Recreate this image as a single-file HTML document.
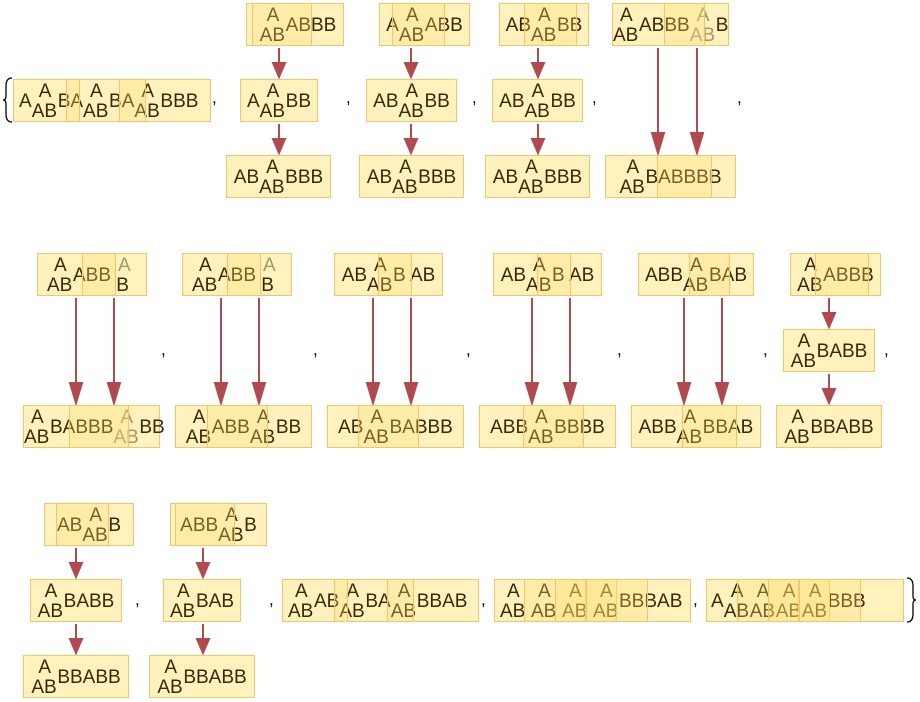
<!DOCTYPE html>
<html><head><meta charset="utf-8"><style>
body{margin:0;width:920px;height:702px;background:#fff;position:relative;overflow:hidden;font-family:"Liberation Sans",sans-serif;}
.b{position:absolute;height:43px;background:rgba(255,238,165,0.75);border:1.5px solid #f5c468;box-sizing:border-box;line-height:44px;text-align:center;white-space:nowrap;font-size:19px;color:#3d2606;}
.o{position:absolute;height:43px;background:rgba(255,226,120,0.3);border:1.5px solid #f5c468;box-sizing:border-box;}
.k{display:inline-block;position:relative;width:26px;height:40px;vertical-align:top;}
.k i{position:absolute;font-style:normal;left:7px;top:2px;line-height:19px;}
.k u{position:absolute;text-decoration:none;left:0;top:22px;line-height:19px;}
.g .k{margin-right:5px;}
.c{position:absolute;font-size:17px;color:#000;}
svg{position:absolute;left:0;top:0;}
</style></head><body>
<svg width="920" height="702">
<g stroke="#b04a4e" stroke-width="2" fill="#b04a4e">
<line x1="279" y1="48" x2="279" y2="66"/><polygon points="273,63 285,63 279,77"/>
<line x1="279" y1="124" x2="279" y2="142"/><polygon points="273,139 285,139 279,153"/>
<line x1="411" y1="48" x2="411" y2="66"/><polygon points="405,63 417,63 411,77"/>
<line x1="411" y1="124" x2="411" y2="142"/><polygon points="405,139 417,139 411,153"/>
<line x1="538" y1="48" x2="538" y2="66"/><polygon points="532,63 544,63 538,77"/>
<line x1="538" y1="124" x2="538" y2="142"/><polygon points="532,139 544,139 538,153"/>
<line x1="658" y1="48" x2="658" y2="138"/><polygon points="652,133 664,133 658,153"/>
<line x1="697" y1="48" x2="697" y2="138"/><polygon points="691,133 703,133 697,153"/>
<line x1="76" y1="298" x2="76" y2="388"/><polygon points="70,383 82,383 76,403"/>
<line x1="114" y1="298" x2="114" y2="388"/><polygon points="108,383 120,383 114,403"/>
<line x1="221" y1="298" x2="221" y2="388"/><polygon points="215,383 227,383 221,403"/>
<line x1="259" y1="298" x2="259" y2="388"/><polygon points="253,383 265,383 259,403"/>
<line x1="373" y1="298" x2="373" y2="388"/><polygon points="367,383 379,383 373,403"/>
<line x1="411" y1="298" x2="411" y2="388"/><polygon points="405,383 417,383 411,403"/>
<line x1="532" y1="298" x2="532" y2="388"/><polygon points="526,383 538,383 532,403"/>
<line x1="570" y1="298" x2="570" y2="388"/><polygon points="564,383 576,383 570,403"/>
<line x1="684" y1="298" x2="684" y2="388"/><polygon points="678,383 690,383 684,403"/>
<line x1="722" y1="298" x2="722" y2="388"/><polygon points="716,383 728,383 722,403"/>
<line x1="829" y1="298" x2="829" y2="316"/><polygon points="823,313 835,313 829,327"/>
<line x1="829" y1="374" x2="829" y2="392"/><polygon points="823,389 835,389 829,403"/>
<line x1="76" y1="548" x2="76" y2="566"/><polygon points="70,563 82,563 76,577"/>
<line x1="76" y1="624" x2="76" y2="642"/><polygon points="70,639 82,639 76,653"/>
<line x1="203" y1="548" x2="203" y2="566"/><polygon points="197,563 209,563 203,577"/>
<line x1="203" y1="624" x2="203" y2="642"/><polygon points="197,639 209,639 203,653"/>
</g>
<g stroke="#000" stroke-width="1.3" fill="none">
<path d="M12,78 Q6,78 6,86 L6,96 Q6,100 3,100 Q6,100 6,104 L6,114 Q6,122 12,122"/>
<path d="M907,578 Q913,578 913,586 L913,596 Q913,600 916,600 Q913,600 913,604 L913,614 Q913,622 907,622"/>
</g>
</svg>

<div class="b" style="left:246px;top:3px;width:98px;padding-left:6px"><span class="k"><i>A</i><u>AB</u></span>ABBB</div>
<div class="o" style="left:252px;top:3px;width:60px"></div>
<div class="b" style="left:240px;top:79px;width:78px">A<span class="k"><i>A</i><u>AB</u></span>BB</div>
<div class="b" style="left:226px;top:155px;width:105px">AB<span class="k"><i>A</i><u>AB</u></span>BBB</div>

<div class="b" style="left:379px;top:3px;width:91px">A<span class="k"><i>A</i><u>AB</u></span>ABB</div>
<div class="o" style="left:392px;top:3px;width:53px"></div>
<div class="b" style="left:366px;top:79px;width:91px">AB<span class="k"><i>A</i><u>AB</u></span>BB</div>
<div class="b" style="left:359px;top:155px;width:105px">AB<span class="k"><i>A</i><u>AB</u></span>BBB</div>

<div class="b" style="left:499px;top:3px;width:90px">AB<span class="k"><i>A</i><u>AB</u></span>BB</div>
<div class="o" style="left:524px;top:3px;width:53px"></div>
<div class="b" style="left:492px;top:79px;width:91px">AB<span class="k"><i>A</i><u>AB</u></span>BB</div>
<div class="b" style="left:485px;top:155px;width:105px">AB<span class="k"><i>A</i><u>AB</u></span>BBB</div>

<div class="b" style="left:612px;top:3px;width:117px"><span class="k"><i>A</i><u>AB</u></span>ABBB<span class="k" style="opacity:.45"><i>A</i><u>AB</u></span>B</div>
<div class="o" style="left:664px;top:3px;width:41px"></div>
<div class="b" style="left:605px;top:155px;width:131px"><span class="k"><i>A</i><u>AB</u></span>BABBBB</div>
<div class="o" style="left:657px;top:155px;width:55px"></div>

<div class="b" style="left:13px;top:79px;width:198px;text-align:left;padding-left:5px">A<span class="k"><i>A</i><u>AB</u></span>BA<span class="k"><i>A</i><u>AB</u></span>BA<span class="k"><i>A</i><u>AB</u></span>BBB</div>
<div class="o" style="left:66px;top:79px;width:14px"></div>
<div class="o" style="left:119px;top:79px;width:27px"></div>
<div class="c" style="left:212px;top:88px">,</div>
<div class="c" style="left:346px;top:88px">,</div>
<div class="c" style="left:472px;top:88px">,</div>
<div class="c" style="left:592px;top:88px">,</div>
<div class="c" style="left:737px;top:88px">,</div>

<div class="b" style="left:37px;top:253px;width:110px"><span class="k"><i>A</i><u>AB</u></span>ABB<span class="k"><i style="opacity:.45">A</i><u>&nbsp;B</u></span></div>
<div class="o" style="left:82px;top:253px;width:34px"></div>
<div class="b" style="left:23px;top:405px;width:137px"><span class="k"><i>A</i><u>AB</u></span>BABBB<span class="k" style="opacity:.45"><i>A</i><u>AB</u></span>BB</div>
<div class="o" style="left:69px;top:405px;width:60px"></div>

<div class="b" style="left:182px;top:253px;width:110px"><span class="k"><i>A</i><u>AB</u></span>ABB<span class="k"><i style="opacity:.45">A</i><u>&nbsp;B</u></span></div>
<div class="o" style="left:227px;top:253px;width:34px"></div>
<div class="b" style="left:175px;top:405px;width:137px"><span class="k"><i>A</i><u>AB</u></span>ABB<span class="k"><i>A</i><u>AB</u></span>BB</div>
<div class="o" style="left:207px;top:405px;width:61px"></div>

<div class="b" style="left:334px;top:253px;width:109px">AB<span class="k"><i>A</i><u>AB</u></span>B AB</div>
<div class="o" style="left:378px;top:253px;width:34px"></div>
<div class="b" style="left:327px;top:405px;width:137px">AB<span class="k"><i>A</i><u>AB</u></span>BABBB</div>
<div class="o" style="left:358px;top:405px;width:61px"></div>

<div class="b" style="left:493px;top:253px;width:109px">AB<span class="k"><i>A</i><u>AB</u></span>B AB</div>
<div class="o" style="left:537px;top:253px;width:34px"></div>
<div class="b" style="left:479px;top:405px;width:137px">ABB<span class="k"><i>A</i><u>AB</u></span>BBBB</div>
<div class="o" style="left:523px;top:405px;width:61px"></div>

<div class="b" style="left:638px;top:253px;width:116px">ABB<span class="k"><i>A</i><u>AB</u></span>BAB</div>
<div class="o" style="left:689px;top:253px;width:41px"></div>
<div class="b" style="left:631px;top:405px;width:130px">ABB<span class="k"><i>A</i><u>AB</u></span>BBAB</div>
<div class="o" style="left:682px;top:405px;width:55px"></div>

<div class="b" style="left:790px;top:253px;width:91px"><span class="k"><i>A</i><u>AB</u></span>ABBB</div>
<div class="o" style="left:815px;top:253px;width:54px"></div>
<div class="b" style="left:783px;top:329px;width:92px"><span class="k"><i>A</i><u>AB</u></span>BABB</div>
<div class="b" style="left:776px;top:405px;width:106px"><span class="k"><i>A</i><u>AB</u></span>BBABB</div>

<div class="c" style="left:161px;top:340px">,</div>
<div class="c" style="left:313px;top:340px">,</div>
<div class="c" style="left:466px;top:340px">,</div>
<div class="c" style="left:617px;top:340px">,</div>
<div class="c" style="left:763px;top:340px">,</div>
<div class="c" style="left:884px;top:340px">,</div>

<div class="b" style="left:44px;top:503px;width:90px">AB<span class="k"><i>A</i><u>AB</u></span>B</div>
<div class="o" style="left:56px;top:503px;width:53px"></div>
<div class="b" style="left:30px;top:579px;width:92px"><span class="k"><i>A</i><u>AB</u></span>BABB</div>
<div class="b" style="left:23px;top:655px;width:106px"><span class="k"><i>A</i><u>AB</u></span>BBABB</div>

<div class="b" style="left:170px;top:503px;width:97px">ABB<span class="k"><i>A</i><u>AB</u></span>B</div>
<div class="o" style="left:175px;top:503px;width:60px"></div>
<div class="b" style="left:163px;top:579px;width:78px"><span class="k"><i>A</i><u>AB</u></span>BAB</div>
<div class="b" style="left:149px;top:655px;width:106px"><span class="k"><i>A</i><u>AB</u></span>BBABB</div>

<div class="b" style="left:282px;top:579px;width:197px;text-align:left;padding-left:5px"><span class="k"><i>A</i><u>AB</u></span>AB<span class="k"><i>A</i><u>AB</u></span>BA<span class="k"><i>A</i><u>AB</u></span>BBAB</div>
<div class="o" style="left:334px;top:579px;width:14px"></div>
<div class="o" style="left:387px;top:579px;width:27px"></div>

<div class="b g" style="left:494px;top:579px;width:197px;text-align:left;padding-left:5px"><span class="k"><i>A</i><u>AB</u></span><span class="k"><i>A</i><u>AB</u></span><span class="k"><i>A</i><u>AB</u></span><span class="k" style="margin-right:0"><i>A</i><u>AB</u></span>BBBAB</div>
<div class="o" style="left:524px;top:579px;width:62px"></div>
<div class="o" style="left:555px;top:579px;width:62px"></div>
<div class="o" style="left:586px;top:579px;width:62px"></div>

<div class="b" style="left:706px;top:579px;width:198px;text-align:left;padding-left:4px">A<span class="k"><i>A</i><u>AB</u></span><span class="k"><i>A</i><u>AB</u></span><span class="k"><i>A</i><u>AB</u></span><span class="k"><i>A</i><u>AB</u></span>BBB</div>
<div class="o" style="left:737px;top:579px;width:62px"></div>
<div class="o" style="left:768px;top:579px;width:62px"></div>
<div class="o" style="left:799px;top:579px;width:62px"></div>

<div class="c" style="left:135px;top:590px">,</div>
<div class="c" style="left:269px;top:590px">,</div>
<div class="c" style="left:481px;top:590px">,</div>
<div class="c" style="left:693px;top:590px">,</div>
</body></html>
